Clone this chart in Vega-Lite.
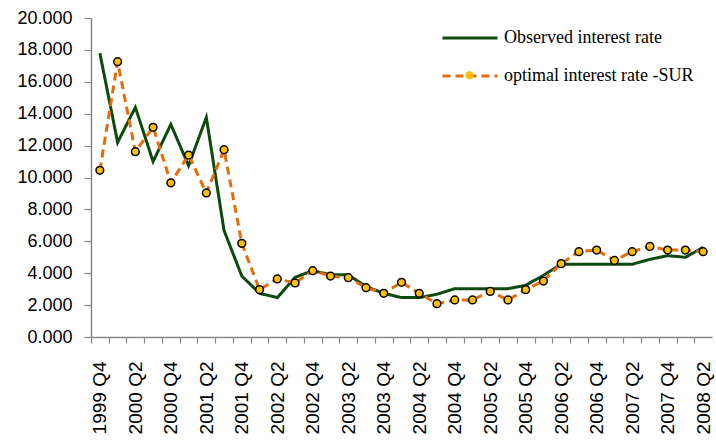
{
  "$schema": "https://vega.github.io/schema/vega-lite/v6.json",
  "width": 621,
  "height": 319,
  "autosize": {"type": "none"},
  "padding": {"left": 91, "top": 18, "right": 4, "bottom": 103},
  "background": "white",
  "config": {"view": {"stroke": null}},
  "data": {
    "values": [
      {"quarter": "1999 Q4", "observed": 17.8, "optimal": 10.45},
      {"quarter": "2000 Q1", "observed": 12.2, "optimal": 17.26},
      {"quarter": "2000 Q2", "observed": 14.4, "optimal": 11.62},
      {"quarter": "2000 Q3", "observed": 11.0, "optimal": 13.15},
      {"quarter": "2000 Q4", "observed": 13.33, "optimal": 9.67},
      {"quarter": "2001 Q1", "observed": 10.74, "optimal": 11.41},
      {"quarter": "2001 Q2", "observed": 13.77, "optimal": 9.03},
      {"quarter": "2001 Q3", "observed": 6.67, "optimal": 11.74},
      {"quarter": "2001 Q4", "observed": 3.82, "optimal": 5.87},
      {"quarter": "2002 Q1", "observed": 2.74, "optimal": 2.97},
      {"quarter": "2002 Q2", "observed": 2.47, "optimal": 3.64},
      {"quarter": "2002 Q3", "observed": 3.74, "optimal": 3.39},
      {"quarter": "2002 Q4", "observed": 4.16, "optimal": 4.16},
      {"quarter": "2003 Q1", "observed": 3.9, "optimal": 3.82},
      {"quarter": "2003 Q2", "observed": 3.9, "optimal": 3.72},
      {"quarter": "2003 Q3", "observed": 3.16, "optimal": 3.09},
      {"quarter": "2003 Q4", "observed": 2.74, "optimal": 2.74},
      {"quarter": "2004 Q1", "observed": 2.47, "optimal": 3.43},
      {"quarter": "2004 Q2", "observed": 2.47, "optimal": 2.74},
      {"quarter": "2004 Q3", "observed": 2.68, "optimal": 2.09},
      {"quarter": "2004 Q4", "observed": 3.03, "optimal": 2.32},
      {"quarter": "2005 Q1", "observed": 3.03, "optimal": 2.32},
      {"quarter": "2005 Q2", "observed": 3.03, "optimal": 2.86},
      {"quarter": "2005 Q3", "observed": 3.03, "optimal": 2.32},
      {"quarter": "2005 Q4", "observed": 3.24, "optimal": 2.97},
      {"quarter": "2006 Q1", "observed": 3.87, "optimal": 3.51},
      {"quarter": "2006 Q2", "observed": 4.56, "optimal": 4.6},
      {"quarter": "2006 Q3", "observed": 4.56, "optimal": 5.35},
      {"quarter": "2006 Q4", "observed": 4.56, "optimal": 5.45},
      {"quarter": "2007 Q1", "observed": 4.56, "optimal": 4.8},
      {"quarter": "2007 Q2", "observed": 4.56, "optimal": 5.35},
      {"quarter": "2007 Q3", "observed": 4.87, "optimal": 5.68},
      {"quarter": "2007 Q4", "observed": 5.1, "optimal": 5.45},
      {"quarter": "2008 Q1", "observed": 5.0, "optimal": 5.45},
      {"quarter": "2008 Q2", "observed": 5.62, "optimal": 5.35}
    ]
  },
  "layer": [
    {
      "transform": [{"fold": ["observed", "optimal"], "as": ["series", "rate"]}],
      "mark": {"type": "line", "strokeWidth": 3},
      "encoding": {
        "x": {
          "field": "quarter",
          "type": "ordinal",
          "sort": null,
          "scale": {"type": "point", "padding": 0.5},
          "axis": {
            "title": null,
            "labelAngle": -90,
            "labelAlign": "right",
            "labelBaseline": "middle",
            "labelPadding": 18,
            "labelOverlap": false,
            "tickOffset": -8.87,
            "labelOffset": 8.87,
            "labelExpr": "(indexof(datum.label, 'Q2') >= 0 || indexof(datum.label, 'Q4') >= 0) ? datum.label : ''",
            "labelFont": "Liberation Sans",
            "labelFontSize": 19,
            "labelColor": "#000000",
            "domainColor": "#868686",
            "domainWidth": 1.5,
            "tickColor": "#868686",
            "tickWidth": 1.2,
            "tickSize": 6,
            "grid": false
          }
        },
        "y": {
          "field": "rate",
          "type": "quantitative",
          "scale": {"domain": [0, 20], "nice": false},
          "axis": {
            "title": null,
            "values": [0, 2, 4, 6, 8, 10, 12, 14, 16, 18, 20],
            "tickCount": 11,
            "format": ".3f",
            "labelOverlap": false,
            "labelFont": "Liberation Sans",
            "labelFontSize": 18,
            "labelColor": "#000000",
            "labelPadding": 12,
            "domainColor": "#868686",
            "domainWidth": 1.5,
            "tickColor": "#868686",
            "tickWidth": 1.2,
            "tickSize": 7,
            "grid": false
          }
        },
        "color": {
          "field": "series",
          "type": "nominal",
          "scale": {"domain": ["observed", "optimal"], "range": ["#0E4A0E", "#E46C0A"]},
          "legend": {
            "title": null,
            "orient": "none",
            "legendX": 350,
            "legendY": -9,
            "padding": 0,
            "symbolType": "stroke",
            "symbolSize": 3025,
            "symbolStrokeWidth": 3,
            "rowPadding": -19,
            "labelOffset": 5,
            "labelFont": "Liberation Serif",
            "labelFontSize": 18,
            "labelColor": "#000000",
            "labelLimit": 400,
            "labelExpr": "datum.value == 'observed' ? 'Observed interest rate' : 'optimal interest rate -SUR'"
          }
        },
        "strokeDash": {
          "field": "series",
          "type": "nominal",
          "scale": {"domain": ["observed", "optimal"], "range": [[1, 0], [8, 5]]},
          "legend": null
        }
      }
    },
    {
      "transform": [{"fold": ["optimal"], "as": ["marker", "rate"]}],
      "mark": {"type": "point", "filled": false, "fill": "#FFC000", "fillOpacity": 1, "stroke": "#000000", "strokeWidth": 1.5, "size": 60, "opacity": 1},
      "encoding": {
        "x": {"field": "quarter", "type": "ordinal", "sort": null},
        "y": {"field": "rate", "type": "quantitative"},
        "shape": {
          "field": "marker",
          "type": "nominal",
          "scale": {"range": ["circle"]},
          "legend": {
            "title": null,
            "orient": "none",
            "legendX": 373.5,
            "legendY": 52.2,
            "padding": 0,
            "symbolType": "circle",
            "symbolSize": 64,
            "symbolFillColor": "#FFC000",
            "symbolStrokeColor": "#000000",
            "symbolStrokeWidth": 1.5,
            "symbolOpacity": 1,
            "labelFontSize": 1,
            "labelOpacity": 0,
            "labelExpr": "''",
            "encode": {
              "symbols": {
                "enter": {
                  "fill": {"value": "#FFC000"},
                  "stroke": {"value": "#000000"},
                  "strokeWidth": {"value": 1.5}
                },
                "update": {
                  "fill": {"value": "#FFC000"},
                  "stroke": {"value": "#000000"},
                  "strokeWidth": {"value": 1.5},
                  "opacity": {"value": 1}
                }
              }
            }
          }
        }
      }
    }
  ]
}
